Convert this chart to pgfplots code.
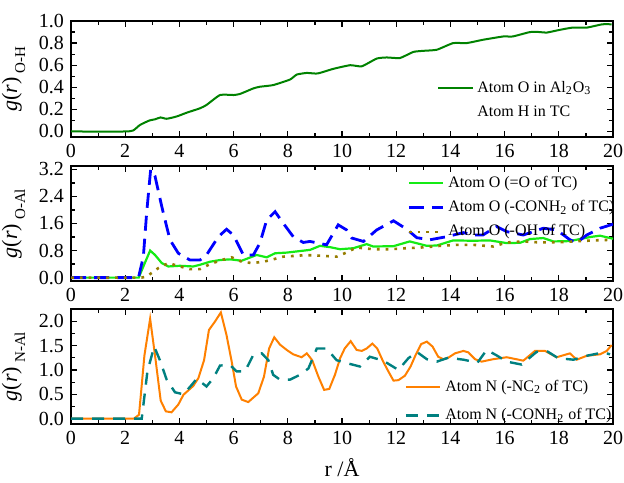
\documentclass[border=0pt]{standalone}
\usepackage{pgfplots}
\pgfplotsset{compat=1.18}
\usepackage{fontspec}
\setmainfont{Liberation Serif}

\definecolor{ohgreen}{RGB}{0,130,0}
\definecolor{brgreen}{RGB}{20,235,20}
\definecolor{dblue}{RGB}{0,0,255}
\definecolor{olivedot}{RGB}{150,125,0}
\definecolor{lorange}{RGB}{255,128,0}
\definecolor{lteal}{RGB}{0,128,128}

\pgfplotsset{
  rdfpanel/.style={
    scale only axis, width=271pt,
    xmin=0, xmax=20, xtick={0,2,...,20},
    minor x tick num=1, minor y tick num=1,
    tick align=inside, major tick length=3pt, minor tick length=1.8pt,
    axis line style={line width=0.8pt},
    every tick/.style={black, line width=0.6pt},
    tick label style={font=\fontsize{10}{12}\selectfont},
    /pgf/number format/assume math mode=true,
    y tick label style={/pgf/number format/.cd, fixed, fixed zerofill, precision=1},
    legend cell align=left,
    legend style={draw=none, fill=none, font=\fontsize{8}{9.5}\selectfont, inner sep=0pt},
  },
  glabel/.style={ylabel={\fontsize{11}{13}\selectfont\textit{g}(\textit{r})\hspace{2pt}\raisebox{-4pt}{\fontsize{7.5}{9}\selectfont #1}}}
}

\begin{document}
\begin{tikzpicture}
\path[use as bounding box] (-35.5pt,10.5pt) rectangle (276.5pt,-230.5pt);

% O(Al2O3) - H(TC)
\begin{axis}[rdfpanel, at={(0pt,0pt)}, anchor=north west, height=58pt,
  ymin=-0.05, ymax=1.0, ytick={0,0.2,...,1.0}, glabel={O-H},
  legend style={at={(0.675,0.52)}, anchor=north west, row sep=1.5pt}]
\addplot[ohgreen, line width=1pt, smooth, tension=0.3] coordinates {
(0,0) (2.0,0) (2.3,0.01) (2.55,0.06) (2.9,0.10) (3.1,0.11) (3.3,0.127) (3.53,0.115)
(3.9,0.136) (4.27,0.17) (4.76,0.21) (5.0,0.24) (5.5,0.33) (6.0,0.33) (6.24,0.34)
(6.73,0.39) (6.97,0.405) (7.46,0.42) (8.08,0.47) (8.33,0.515) (8.7,0.53) (9.1,0.525)
(9.68,0.567) (10.3,0.6) (10.73,0.59) (11.28,0.66) (11.65,0.67) (12.14,0.665) (12.63,0.72)
(13.0,0.73) (13.5,0.74) (14.1,0.80) (14.6,0.80) (15.2,0.83) (15.95,0.86) (16.3,0.86)
(16.94,0.90) (17.3,0.90) (17.55,0.895) (18.04,0.92) (18.5,0.94) (19.03,0.94) (19.6,0.97) (19.95,0.97)};
\addlegendentry{Atom O in Al\textsubscript{2}O\textsubscript{3}}
\addlegendimage{empty legend}
\addlegendentry{Atom H in TC}
\end{axis}

% O(TC) - Al
\begin{axis}[rdfpanel, at={(0pt,-72.5pt)}, anchor=north west, height=57.5pt,
  ymin=-0.1, ymax=3.3, ytick={0,0.8,...,3.2}, glabel={O-Al},
  legend style={at={(0.62,0.95)}, anchor=north west, row sep=1pt}]
\addplot[brgreen, line width=1.1pt] coordinates {
(0,0) (2.5,0) (2.67,0.33) (2.92,0.8) (3.1,0.67) (3.35,0.43) (3.59,0.33) (4.02,0.35)
(4.51,0.33) (4.76,0.38) (5.13,0.47) (5.5,0.52) (5.87,0.54) (6.3,0.5) (6.85,0.67)
(7.22,0.6) (7.53,0.72) (7.96,0.74) (8.82,0.82) (9.19,0.94) (9.56,0.9) (9.93,0.84)
(10.42,0.87) (10.91,0.99) (11.15,0.92) (11.9,0.93) (12.5,1.07) (13.13,0.94) (13.5,0.95)
(14.1,1.1) (14.84,1.09) (15.46,1.1) (16.08,1.02) (16.57,1.03) (16.94,1.14) (17.43,1.17)
(17.8,1.07) (18.41,1.08) (19.15,1.2) (19.52,1.24) (20,1.15)};
\addlegendentry{Atom O (=O of TC)}
\addplot[dblue, line width=1.4pt, dash pattern=on 7.5pt off 4pt] coordinates {
(0,0) (2.49,0) (2.67,0.62) (2.79,1.9) (2.94,3.2) (3.1,3.0) (3.35,2.1) (3.65,1.12)
(3.96,0.72) (4.39,0.52) (4.76,0.52) (5.0,0.67) (5.44,1.21) (5.74,1.43) (5.99,1.26)
(6.36,0.67) (6.73,0.67) (6.97,1.02) (7.22,1.7) (7.53,1.95) (7.83,1.61) (8.2,1.21)
(8.57,1.04) (8.82,1.07) (9.43,0.97) (9.86,1.56) (10.17,1.41) (10.36,1.17) (10.79,1.07)
(11.28,1.41) (11.9,1.68) (12.39,1.43) (12.76,1.18) (13.25,1.12) (13.86,1.21) (14.48,1.33)
(14.84,1.26) (15.2,1.26) (15.7,1.51) (16.08,1.36) (16.69,1.26) (17.43,1.46) (17.92,1.41)
(18.41,1.12) (18.66,1.03) (19.03,1.26) (19.52,1.46) (20,1.58)};
\addlegendentry{Atom O (-CONH\textsubscript{2} of TC)}
\addplot[olivedot, line width=1.3pt, dash pattern=on 1.4pt off 3pt] coordinates {
(0,0) (2.6,0) (2.79,0.03) (3.22,0.28) (3.59,0.43) (4.02,0.33) (4.39,0.25) (4.76,0.25)
(5.13,0.4) (5.56,0.52) (5.93,0.6) (6.3,0.47) (6.67,0.43) (7.1,0.47) (7.46,0.54)
(7.83,0.62) (8.57,0.66) (8.94,0.66) (9.8,0.62) (10.1,0.72) (10.54,0.89) (11.15,0.84)
(11.77,0.84) (12.39,0.87) (13.13,0.9) (13.62,0.94) (14.23,0.97) (14.84,0.97) (15.58,0.92)
(16.08,1.04) (16.69,1.07) (17.3,1.04) (17.92,1.04) (18.54,1.07) (19.27,1.1) (20,1.12)};
\addlegendentry{Atom O (-OH of TC)}
\end{axis}

% N(TC) - Al
\begin{axis}[rdfpanel, at={(0pt,-144pt)}, anchor=north west, height=57.5pt,
  ymin=-0.11, ymax=2.25, ytick={0,0.5,...,2.0}, glabel={N-Al},
  xlabel={\fontsize{11}{13}\selectfont r /Å},
  legend style={at={(0.615,0.42)}, anchor=north west, row sep=3pt}]
\addplot[lorange, line width=1pt] coordinates {
(0,0) (2.32,0) (2.51,0.08) (2.71,1.3) (2.92,2.05) (3.1,1.3) (3.31,0.37) (3.5,0.15)
(3.71,0.13) (3.96,0.29) (4.15,0.49) (4.51,0.67) (4.7,0.83) (4.91,1.2) (5.09,1.82)
(5.31,1.99) (5.53,2.18) (5.74,1.71) (5.93,1.17) (6.09,0.66) (6.3,0.39) (6.54,0.34)
(6.91,0.52) (7.12,0.86) (7.31,1.44) (7.5,1.67) (7.71,1.52) (7.96,1.41) (8.2,1.32)
(8.51,1.26) (8.7,1.34) (8.9,1.2) (9.13,0.86) (9.34,0.59) (9.53,0.61) (9.74,0.9)
(9.93,1.24) (10.1,1.44) (10.32,1.59) (10.54,1.41) (10.73,1.39) (10.91,1.44) (11.12,1.54)
(11.3,1.44) (11.52,1.17) (11.71,0.97) (11.9,0.78) (12.08,0.79) (12.32,0.88) (12.53,1.07)
(12.72,1.31) (12.92,1.53) (13.13,1.58) (13.34,1.48) (13.55,1.27) (13.74,1.22) (13.92,1.25)
(14.17,1.34) (14.48,1.39) (14.66,1.36) (14.91,1.22) (15.15,1.17) (15.58,1.22) (16.08,1.26)
(16.69,1.19) (17.12,1.39) (17.49,1.39) (17.92,1.26) (18.41,1.34) (18.66,1.21) (19.03,1.29)
(19.52,1.32) (19.77,1.39) (19.95,1.51)};
\addlegendentry{Atom N (-NC\textsubscript{2} of TC)}
\addplot[lteal, line width=1.2pt, dash pattern=on 6pt off 4.5pt] coordinates {
(0,0) (2.61,0) (2.82,0.97) (3.07,1.48) (3.28,1.2) (3.53,0.8) (3.84,0.54) (4.15,0.5)
(4.45,0.69) (4.64,0.82) (5.0,0.66) (5.25,0.83) (5.5,1.09) (5.87,1.1) (6.11,0.97)
(6.42,0.97) (6.73,1.31) (7.04,1.34) (7.28,1.2) (7.46,0.9) (7.71,0.8) (8.08,0.8)
(8.45,0.9) (8.76,1.03) (9.07,1.44) (9.43,1.44) (9.8,1.2) (10.17,1.14) (10.66,1.07)
(11.03,1.27) (11.52,1.19) (12.08,1.0) (12.45,1.24) (12.76,1.37) (13.13,1.22) (13.5,1.17)
(13.92,1.25) (14.48,1.21) (15.0,1.15) (15.34,1.41) (15.7,1.3) (16.08,1.17) (16.63,1.11)
(17.18,1.37) (17.55,1.39) (17.98,1.24) (18.54,1.21) (19.03,1.29) (19.64,1.36) (19.89,1.32)};
\addlegendentry{Atom N (-CONH\textsubscript{2} of TC)}
\end{axis}
\end{tikzpicture}
\end{document}
